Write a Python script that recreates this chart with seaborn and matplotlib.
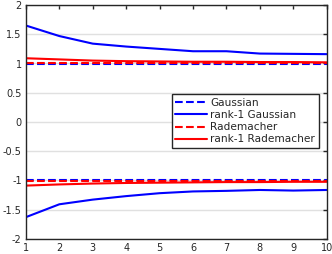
import numpy as np
import pandas as pd
import matplotlib
matplotlib.use('Agg')
import matplotlib.pyplot as plt
import seaborn as sns

# iteration index
k = [1, 2, 3, 4, 5, 6, 7, 8, 9, 10]

# upper / lower envelopes for each method
gauss_up = [0.995, 0.995, 0.995, 0.995, 0.995, 0.995, 0.995, 0.995, 0.995, 0.995]
gauss_lo = [-0.995, -0.995, -0.995, -0.995, -0.995, -0.995, -0.995, -0.995, -0.995, -0.995]
r1_gauss_up = [1.65, 1.47, 1.34, 1.29, 1.25, 1.21, 1.21, 1.17, 1.165, 1.16]
r1_gauss_lo = [-1.63, -1.41, -1.33, -1.27, -1.22, -1.19, -1.18, -1.165, -1.175, -1.165]
rad_up = [1.01, 1.01, 1.01, 1.01, 1.01, 1.01, 1.01, 1.01, 1.01, 1.01]
rad_lo = [-1.01, -1.01, -1.01, -1.01, -1.01, -1.01, -1.01, -1.01, -1.01, -1.01]
r1_rad_up = [1.09, 1.07, 1.05, 1.04, 1.035, 1.03, 1.03, 1.025, 1.025, 1.02]
r1_rad_lo = [-1.09, -1.07, -1.055, -1.045, -1.04, -1.035, -1.03, -1.03, -1.025, -1.025]

sns.set_style('white')
plt.rcParams['font.family'] = ['DejaVu Sans']

fig, ax = plt.subplots(figsize=(3.32, 2.54), dpi=100)

series = [
    ('Gaussian', gauss_up, gauss_lo, 'blue', '--'),
    ('rank-1 Gaussian', r1_gauss_up, r1_gauss_lo, 'blue', '-'),
    ('Rademacher', rad_up, rad_lo, 'red', '--'),
    ('rank-1 Rademacher', r1_rad_up, r1_rad_lo, 'red', '-'),
]

for name, up, lo, col, ls in series:
    sns.lineplot(x=k, y=up, ax=ax, color=col, linestyle=ls, linewidth=1.5, label=name)
    sns.lineplot(x=k, y=lo, ax=ax, color=col, linestyle=ls, linewidth=1.5)

ax.set_xlim(1, 10)
ax.set_ylim(-2, 2)
ax.set_xticks(k)
ax.set_yticks(np.arange(-2, 2.01, 0.5))
ax.set_yticklabels(['-2', '-1.5', '-1', '-0.5', '0', '0.5', '1', '1.5', '2'])
ax.yaxis.grid(True, color='#e0e0e0', linewidth=1)
ax.set_axisbelow(True)
ax.tick_params(direction='in', top=True, right=True, length=3, width=1,
               labelsize=7, colors='#262626', pad=3)
for s in ax.spines.values():
    s.set_color('#262626')
    s.set_linewidth(1)

leg = ax.legend(loc='upper right', bbox_to_anchor=(0.973, 0.618), fontsize=7.6,
                fancybox=False, framealpha=1, edgecolor='#262626',
                handlelength=3.0, borderpad=0.35, labelspacing=0.2,
                handletextpad=0.3, borderaxespad=0)
leg.get_frame().set_linewidth(1)

fig.subplots_adjust(left=0.078, right=0.984, top=0.98, bottom=0.06)
fig.savefig('out.png', dpi=100)
